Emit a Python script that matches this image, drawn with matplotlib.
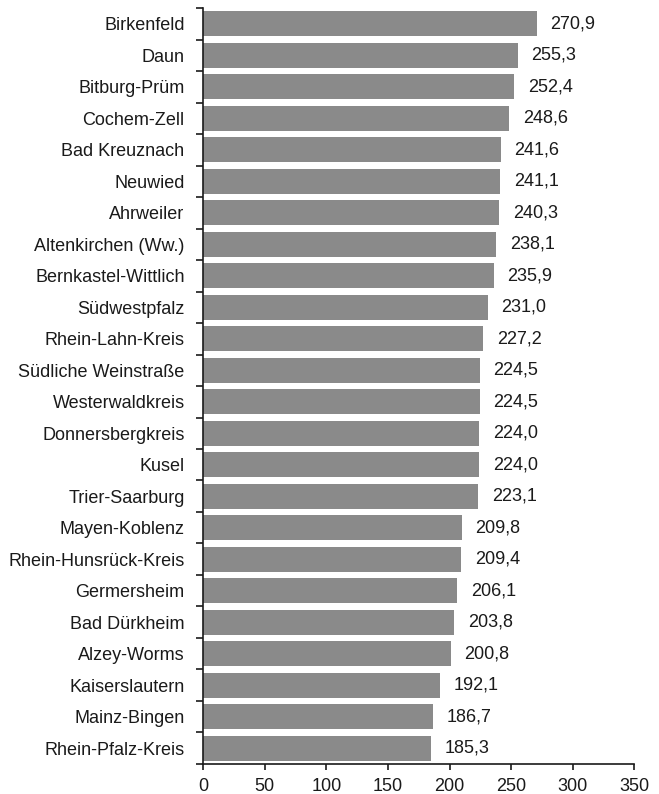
import matplotlib
matplotlib.use("Agg")
import matplotlib.pyplot as plt
import numpy as np

plt.rcParams['font.family'] = ['Liberation Sans', 'DejaVu Sans']

categories = ["Birkenfeld", "Daun", "Bitburg-Prüm", "Cochem-Zell", "Bad Kreuznach",
              "Neuwied", "Ahrweiler", "Altenkirchen (Ww.)", "Bernkastel-Wittlich",
              "Südwestpfalz", "Rhein-Lahn-Kreis", "Südliche Weinstraße", "Westerwaldkreis",
              "Donnersbergkreis", "Kusel", "Trier-Saarburg", "Mayen-Koblenz",
              "Rhein-Hunsrück-Kreis", "Germersheim", "Bad Dürkheim", "Alzey-Worms",
              "Kaiserslautern", "Mainz-Bingen", "Rhein-Pfalz-Kreis"]
values = [270.9, 255.3, 252.4, 248.6, 241.6, 241.1, 240.3, 238.1, 235.9, 231.0,
          227.2, 224.5, 224.5, 224.0, 224.0, 223.1, 209.8, 209.4, 206.1, 203.8,
          200.8, 192.1, 186.7, 185.3]
xticks = [0, 50, 100, 150, 200, 250, 300, 350]

text_color = "#1a1a1a"
bar_color = "#8a8a8a"
fs = 13

fig = plt.figure(figsize=(6.59, 7.94), dpi=100)
ax = fig.add_axes([0.3085, 0.0378, 0.654, 0.9521])

n = len(categories)
y = np.arange(n)
ax.barh(y, values, height=0.78, color=bar_color, zorder=2)
for yi, v in zip(y, values):
    ax.annotate(f"{v:.1f}".replace(".", ","), xy=(v, yi), xytext=(9.8, 0),
                textcoords="offset points", va="center", ha="left",
                fontsize=fs, color=text_color)

ax.set_ylim(n - 0.5, -0.5)
ax.set_xlim(0, 350)
ax.set_xticks(xticks)
ax.set_xticklabels([str(t) for t in xticks])

ax.set_yticks(np.arange(-0.5, n, 1.0))
ax.set_yticklabels([])
ax.set_yticks(y, minor=True)
ax.set_yticklabels(categories, minor=True)
ax.tick_params(axis="y", which="major", length=5, width=1.2, color=text_color, direction="out")
ax.tick_params(axis="y", which="minor", length=0, pad=13.5, labelsize=fs, labelcolor=text_color)
ax.tick_params(axis="x", length=4, width=1.2, color=text_color, pad=6, labelsize=fs, labelcolor=text_color)

for s in ["top", "right"]:
    ax.spines[s].set_visible(False)
for s in ["left", "bottom"]:
    ax.spines[s].set_color(text_color)
    ax.spines[s].set_linewidth(1.2)

fig.savefig("out.png", dpi=100)
